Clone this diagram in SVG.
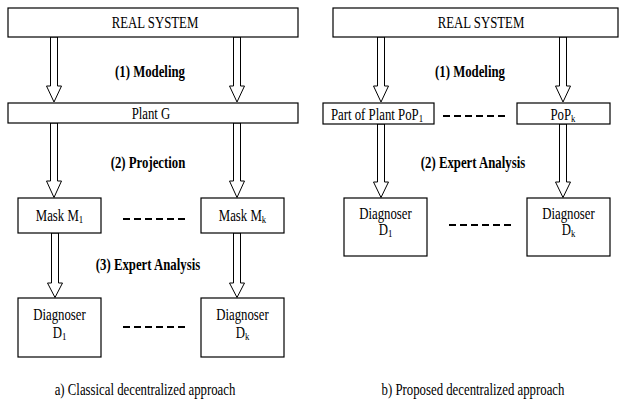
<svg xmlns="http://www.w3.org/2000/svg" width="619" height="400" viewBox="0 0 619 400">
<style>
.box{fill:#fff;stroke:#000;stroke-width:1.2}
.arr{fill:#fff;stroke:#000;stroke-width:1}
.dash{stroke:#000;stroke-width:2;stroke-dasharray:7 4;fill:none}
text{font-family:"Liberation Serif","Times New Roman","DejaVu Serif",serif;font-size:16px;fill:#000;text-anchor:middle}
.b{font-weight:bold}
.s{font-size:11px}
</style>
<rect width="619" height="400" fill="#fff"/>
<g id="connectors">
<polygon class="arr" points="50.5,37 57.5,37 57.5,86 61.5,86 54,102 46.5,86 50.5,86"/>
<polygon class="arr" points="233.5,37 240.5,37 240.5,86 244.5,86 237,102 229.5,86 233.5,86"/>
<polygon class="arr" points="50.5,123 57.5,123 57.5,181 61.5,181 54,197.5 46.5,181 50.5,181"/>
<polygon class="arr" points="233.5,123 240.5,123 240.5,181 244.5,181 237,197.5 229.5,181 233.5,181"/>
<polygon class="arr" points="51.5,233 58.5,233 58.5,283 62.5,283 55,297.5 47.5,283 51.5,283"/>
<polygon class="arr" points="233.5,233 240.5,233 240.5,283 244.5,283 237,297.5 229.5,283 233.5,283"/>
<line class="dash" x1="123" y1="219" x2="185" y2="219"/>
<line class="dash" x1="123" y1="327" x2="185" y2="327"/>
<polygon class="arr" points="377.5,37 384.5,37 384.5,86 388.5,86 381,102 373.5,86 377.5,86"/>
<polygon class="arr" points="559.5,37 566.5,37 566.5,86 570.5,86 563,102 555.5,86 559.5,86"/>
<polygon class="arr" points="377.5,124 384.5,124 384.5,182 388.5,182 381,197.5 373.5,182 377.5,182"/>
<polygon class="arr" points="559.5,124 566.5,124 566.5,182 570.5,182 563,197.5 555.5,182 559.5,182"/>
<line class="dash" x1="443" y1="116" x2="505" y2="116"/>
<line class="dash" x1="449" y1="225" x2="511" y2="225"/>
</g>
<g id="labels">
<text class="b" transform="translate(150 77) scale(0.8 1)">(1) Modeling</text>
<text class="b" transform="translate(148 168) scale(0.8 1)">(2) Projection</text>
<text class="b" transform="translate(148 270) scale(0.8 1)">(3) Expert Analysis</text>
<text class="b" transform="translate(470 77) scale(0.8 1)">(1) Modeling</text>
<text class="b" transform="translate(473 168) scale(0.8 1)">(2) Expert Analysis</text>
<text transform="translate(145 395) scale(0.8 1)">a)  Classical decentralized approach</text>
<text transform="translate(473 395) scale(0.8 1)">b)  Proposed decentralized approach</text>
</g>
<g id="real-system-a">
<rect class="box" x="8" y="8" width="290" height="29"/>
<text transform="translate(155 28) scale(0.8 1)">REAL SYSTEM</text>
</g>
<g id="plant-g">
<rect class="box" x="8" y="103" width="290" height="20"/>
<text transform="translate(151 118.5) scale(0.8 1)">Plant G</text>
</g>
<g id="mask-1">
<rect class="box" x="18" y="198" width="83" height="35"/>
<text transform="translate(59.5 221) scale(0.8 1)">Mask M<tspan class="s" dy="2">1</tspan></text>
</g>
<g id="mask-k">
<rect class="box" x="201" y="198" width="83" height="35"/>
<text transform="translate(242.5 221) scale(0.8 1)">Mask M<tspan class="s" dy="2">k</tspan></text>
</g>
<g id="diagnoser-a1">
<rect class="box" x="18" y="298" width="83" height="59"/>
<text transform="translate(59.5 320) scale(0.8 1)">Diagnoser</text>
<text transform="translate(59.5 338) scale(0.8 1)">D<tspan class="s" dy="2">1</tspan></text>
</g>
<g id="diagnoser-ak">
<rect class="box" x="201" y="298" width="83" height="59"/>
<text transform="translate(242.5 320) scale(0.8 1)">Diagnoser</text>
<text transform="translate(242.5 338) scale(0.8 1)">D<tspan class="s" dy="2">k</tspan></text>
</g>
<g id="real-system-b">
<rect class="box" x="333" y="8" width="285" height="29"/>
<text transform="translate(481 28) scale(0.8 1)">REAL SYSTEM</text>
</g>
<g id="pop-1">
<rect class="box" x="323" y="103" width="111" height="21"/>
<text transform="translate(377 120) scale(0.8 1)">Part of Plant PoP<tspan class="s" dy="2">1</tspan></text>
</g>
<g id="pop-k">
<rect class="box" x="517" y="103" width="93" height="21"/>
<text transform="translate(563 120) scale(0.8 1)">PoP<tspan class="s" dy="2">k</tspan></text>
</g>
<g id="diagnoser-b1">
<rect class="box" x="344" y="198" width="83" height="58"/>
<text transform="translate(385.5 219) scale(0.8 1)">Diagnoser</text>
<text transform="translate(385.5 235) scale(0.8 1)">D<tspan class="s" dy="2">1</tspan></text>
</g>
<g id="diagnoser-bk">
<rect class="box" x="527" y="198" width="83" height="58"/>
<text transform="translate(568.5 219) scale(0.8 1)">Diagnoser</text>
<text transform="translate(568.5 235) scale(0.8 1)">D<tspan class="s" dy="2">k</tspan></text>
</g>
</svg>
